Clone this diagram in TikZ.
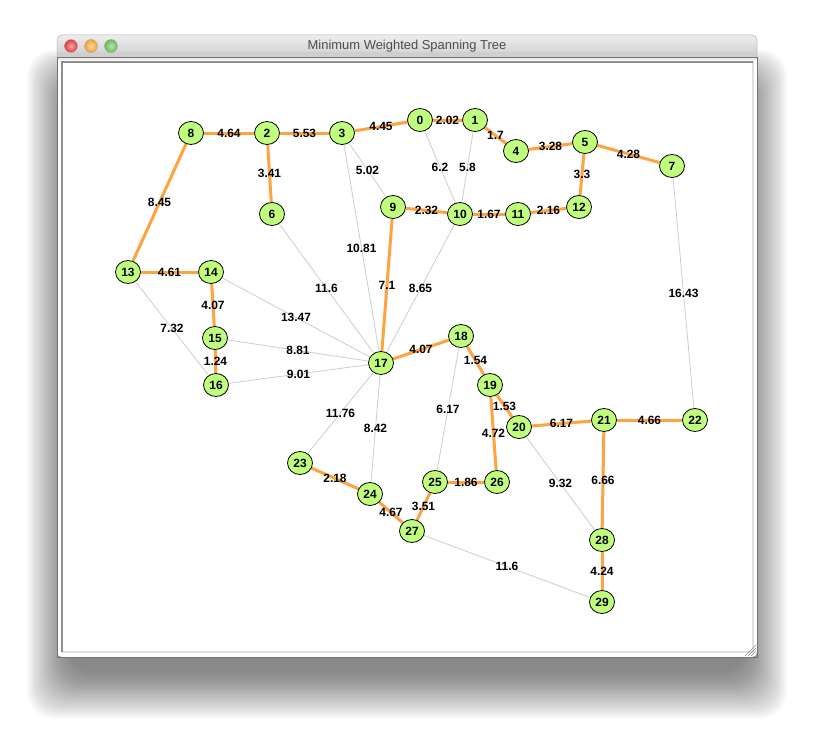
\documentclass[tikz,border=0pt]{standalone}
\usepackage{fontspec}
\setmainfont{Liberation Sans}
\usetikzlibrary{shapes.geometric,shadings}
\pgfdeclarelayer{back}
\pgfdeclarelayer{edges}
\pgfsetlayers{back,edges,main}
\definecolor{mstorange}{RGB}{255,163,63}
\definecolor{nodegreen}{RGB}{192,255,126}
\definecolor{edgegray}{RGB}{205,205,205}
\definecolor{titlegray}{RGB}{77,77,77}
\definecolor{lightred}{RGB}{230,60,60}
\definecolor{lightorange}{RGB}{240,165,50}
\definecolor{lightgreen}{RGB}{100,190,80}
\tikzset{
  vtx/.style={ellipse, draw=black, line width=0.8bp, fill=nodegreen, minimum width=25bp, minimum height=23bp, inner sep=0pt, font=\fontsize{12}{12}\selectfont\bfseries},
  mst/.style={draw=mstorange, line width=3bp},
  other/.style={draw=edgegray, line width=0.8bp},
  lbl/.style={midway, inner sep=0pt, font=\fontsize{12}{12}\selectfont\bfseries, text=black},
  light/.style={circle, minimum size=13bp, inner sep=0pt, draw=black!35, line width=0.4bp},
}
\begin{document}
\begin{tikzpicture}[x=1bp,y=-1bp]
\useasboundingbox (0,0) rectangle (814,736);
\begin{pgfonlayer}{back}
  % drop shadow
  \foreach \i in {0,...,39} {
    \fill[black, opacity=0.017, rounded corners=26bp] (68-\i*1.05, 85-\i*0.9) rectangle (746+\i*1.05, 672+\i*1.2);
  }
  % window body
  \fill[white, rounded corners=5bp] (57,35) rectangle (757,657);
  \fill[white!92!black] (57,50) rectangle (757,60);
  \shade[top color=white!93!black, bottom color=white!81!black, rounded corners=5bp] (57,35) rectangle (757,57);
  \fill[white!81!black] (57,52) rectangle (757,57);
  \draw[black!55, line width=0.7bp] (57,57) rectangle (757,657);
  \draw[black!30, line width=0.5bp, rounded corners=5bp] (57,57) -- (57,35) -- (757,35) -- (757,57);
  % content frame
  \draw[white!88!black, line width=2bp] (753,61) -- (753,652) -- (61,652);
  \draw[white!56!black, line width=2.5bp] (62,652) -- (62,62) -- (753,62);
  % resize grip
  \foreach \d in {0,3,6} {
    \draw[black!45, line width=0.6bp] (745+\d,656) -- (756,645+\d);
  }
  % traffic lights
  \node[light, inner color=lightred!45!white, outer color=lightred] (tlred) at (71,46) {};
  \node[light, inner color=lightorange!45!white, outer color=lightorange] (tlorange) at (91,46) {};
  \node[light, inner color=lightgreen!45!white, outer color=lightgreen] (tlgreen) at (111,46) {};
  \node[text=titlegray, font=\fontsize{13}{13}\selectfont] (title) at (407,46) {Minimum Weighted Spanning Tree};
\end{pgfonlayer}

% vertices
\node[vtx] (n0) at (420,120) {0};
\node[vtx] (n1) at (475,120) {1};
\node[vtx] (n2) at (267,133) {2};
\node[vtx] (n3) at (342,133) {3};
\node[vtx] (n4) at (516,151) {4};
\node[vtx] (n5) at (585,142) {5};
\node[vtx] (n6) at (272,214) {6};
\node[vtx] (n7) at (672,166) {7};
\node[vtx] (n8) at (191,133) {8};
\node[vtx] (n9) at (393,207) {9};
\node[vtx] (n10) at (460,214) {10};
\node[vtx] (n11) at (518,214) {11};
\node[vtx] (n12) at (579,207) {12};
\node[vtx] (n13) at (128,272) {13};
\node[vtx] (n14) at (211,272) {14};
\node[vtx] (n15) at (215,338) {15};
\node[vtx] (n16) at (216,385) {16};
\node[vtx] (n17) at (381,363) {17};
\node[vtx] (n18) at (461,336) {18};
\node[vtx] (n19) at (490,385) {19};
\node[vtx] (n20) at (519,427) {20};
\node[vtx] (n21) at (604,420) {21};
\node[vtx] (n22) at (695,420) {22};
\node[vtx] (n23) at (300,463) {23};
\node[vtx] (n24) at (370,494) {24};
\node[vtx] (n25) at (435,482) {25};
\node[vtx] (n26) at (497,482) {26};
\node[vtx] (n27) at (412,531) {27};
\node[vtx] (n28) at (602,540) {28};
\node[vtx] (n29) at (602,602) {29};

\begin{pgfonlayer}{edges}
  % non-tree edges
  \draw[other] (n3) -- node[lbl] {5.02} (n9);
  \draw[other] (n3) -- node[lbl] {10.81} (n17);
  \draw[other] (n0) -- node[lbl] {6.2} (n10);
  \draw[other] (n1) -- node[lbl] {5.8} (n10);
  \draw[other] (n10) -- node[lbl] {8.65} (n17);
  \draw[other] (n6) -- node[lbl] {11.6} (n17);
  \draw[other] (n14) -- node[lbl] {13.47} (n17);
  \draw[other] (n15) -- node[lbl] {8.81} (n17);
  \draw[other] (n16) -- node[lbl] {9.01} (n17);
  \draw[other] (n13) -- node[lbl] {7.32} (n16);
  \draw[other] (n17) -- node[lbl] {11.76} (n23);
  \draw[other] (n17) -- node[lbl] {8.42} (n24);
  \draw[other] (n18) -- node[lbl] {6.17} (n25);
  \draw[other] (n20) -- node[lbl] {9.32} (n28);
  \draw[other] (n27) -- node[lbl] {11.6} (n29);
  \draw[other] (n7) -- node[lbl] {16.43} (n22);
  % tree edges
  \draw[mst] (n8) -- node[lbl] {4.64} (n2);
  \draw[mst] (n2) -- node[lbl] {5.53} (n3);
  \draw[mst] (n3) -- node[lbl] {4.45} (n0);
  \draw[mst] (n0) -- node[lbl] {2.02} (n1);
  \draw[mst] (n1) -- node[lbl] {1.7} (n4);
  \draw[mst] (n4) -- node[lbl] {3.28} (n5);
  \draw[mst] (n5) -- node[lbl] {4.28} (n7);
  \draw[mst] (n5) -- node[lbl] {3.3} (n12);
  \draw[mst] (n12) -- node[lbl] {2.16} (n11);
  \draw[mst] (n11) -- node[lbl] {1.67} (n10);
  \draw[mst] (n10) -- node[lbl] {2.32} (n9);
  \draw[mst] (n9) -- node[lbl] {7.1} (n17);
  \draw[mst] (n2) -- node[lbl] {3.41} (n6);
  \draw[mst] (n8) -- node[lbl] {8.45} (n13);
  \draw[mst] (n13) -- node[lbl] {4.61} (n14);
  \draw[mst] (n14) -- node[lbl] {4.07} (n15);
  \draw[mst] (n15) -- node[lbl] {1.24} (n16);
  \draw[mst] (n17) -- node[lbl] {4.07} (n18);
  \draw[mst] (n18) -- node[lbl] {1.54} (n19);
  \draw[mst] (n19) -- node[lbl] {1.53} (n20);
  \draw[mst] (n19) -- node[lbl] {4.72} (n26);
  \draw[mst] (n26) -- node[lbl] {1.86} (n25);
  \draw[mst] (n25) -- node[lbl] {3.51} (n27);
  \draw[mst] (n27) -- node[lbl] {4.67} (n24);
  \draw[mst] (n24) -- node[lbl] {2.18} (n23);
  \draw[mst] (n20) -- node[lbl] {6.17} (n21);
  \draw[mst] (n21) -- node[lbl] {4.66} (n22);
  \draw[mst] (n21) -- node[lbl] {6.66} (n28);
  \draw[mst] (n28) -- node[lbl] {4.24} (n29);
\end{pgfonlayer}
\end{tikzpicture}
\end{document}
